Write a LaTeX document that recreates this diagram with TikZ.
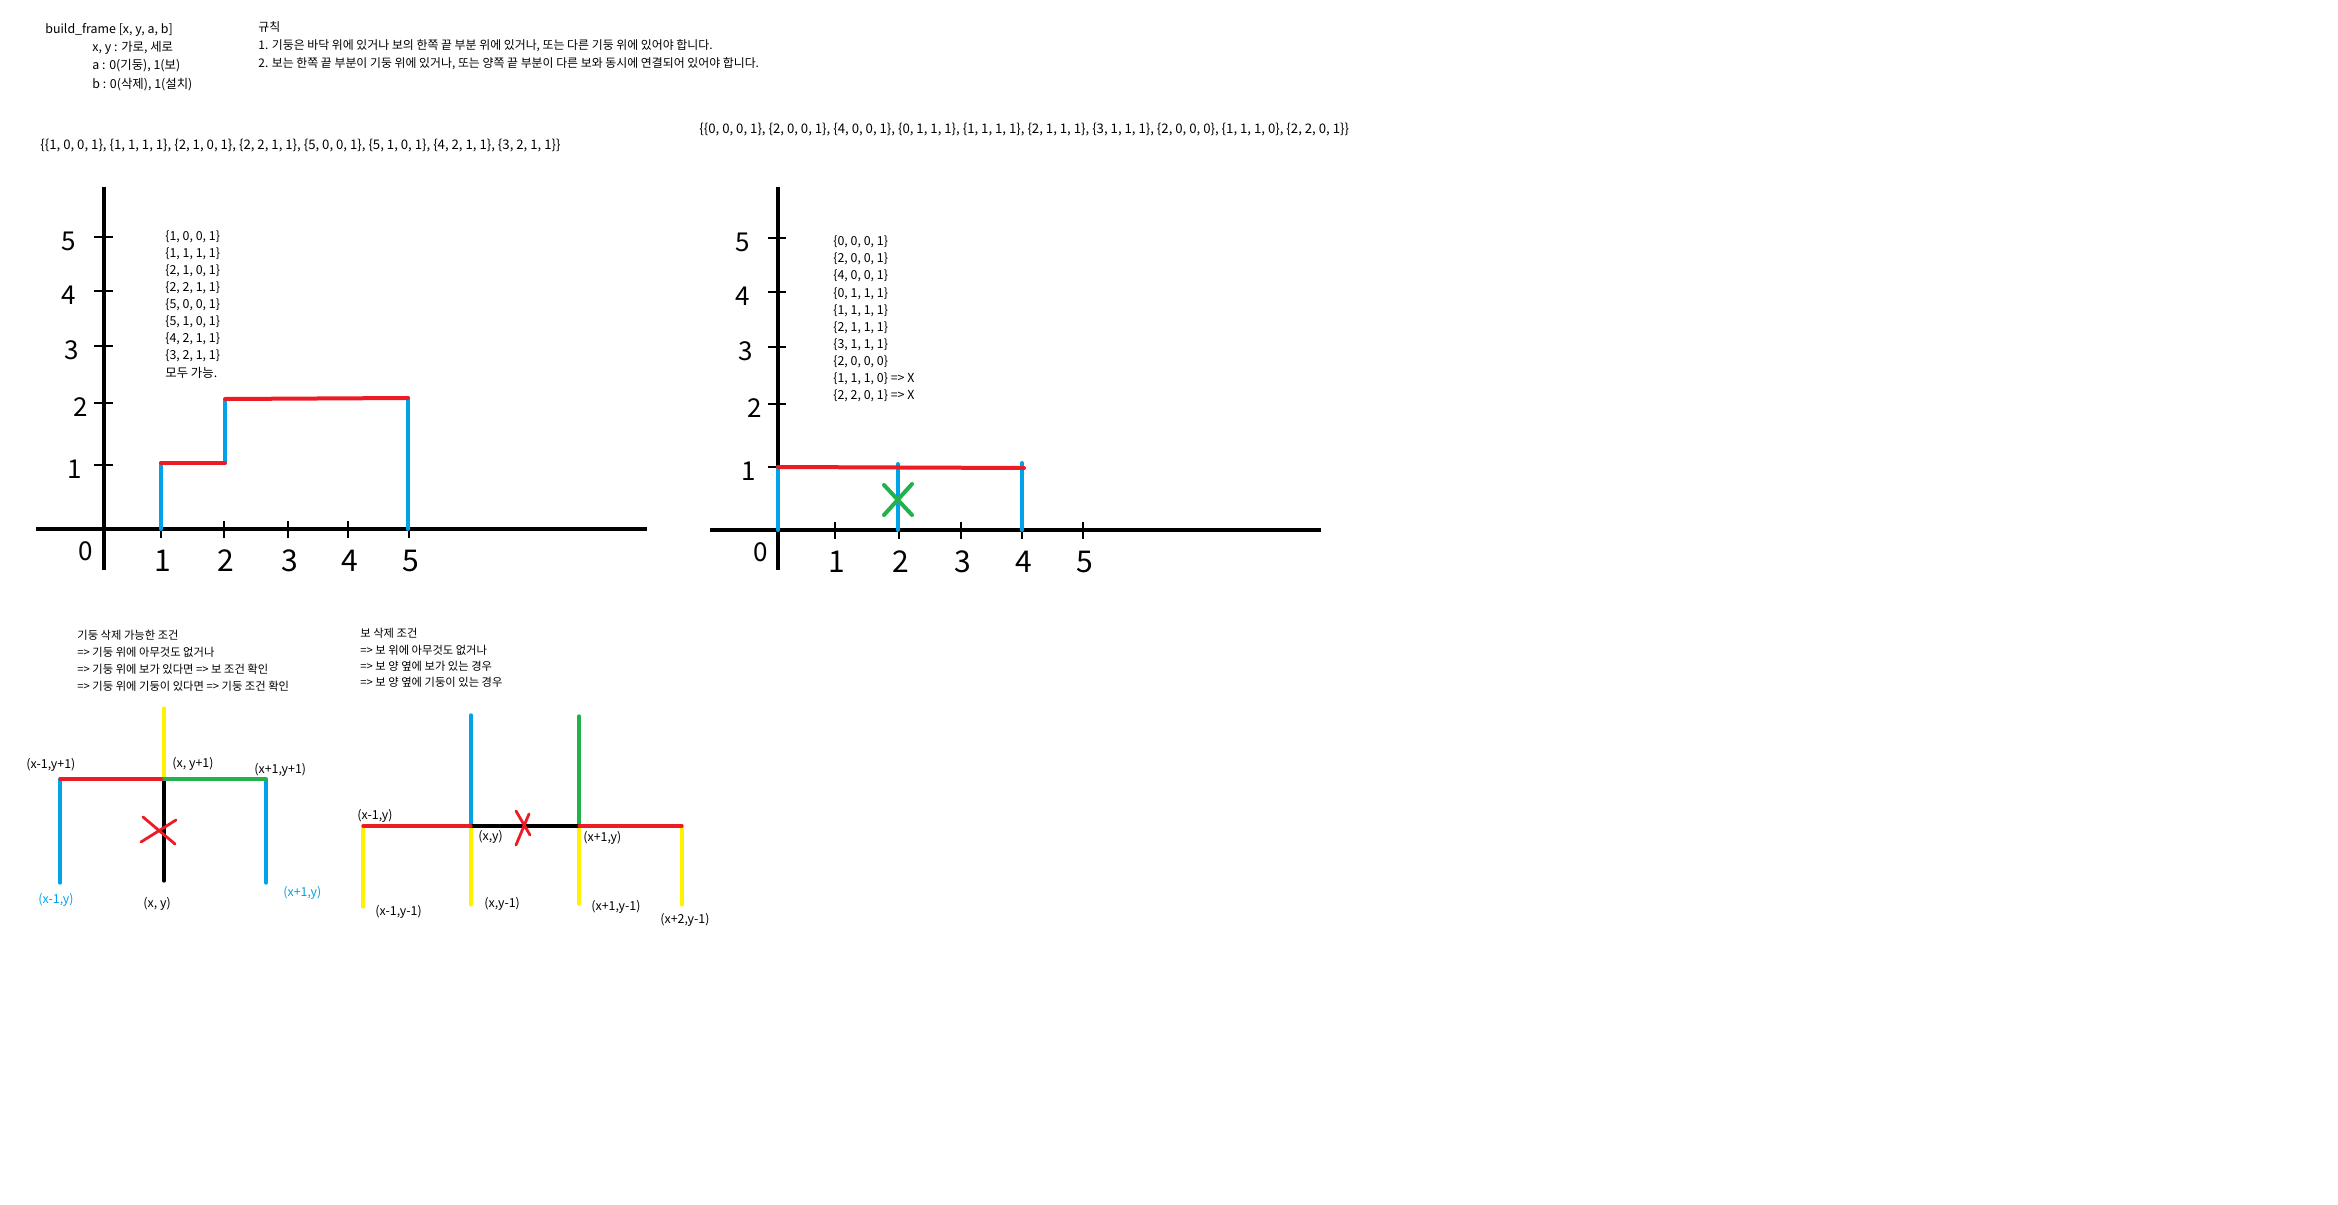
\documentclass[tikz,border=0pt]{standalone}
\usepackage{fontspec}
\setmainfont{Noto Sans CJK KR}
\usetikzlibrary{positioning}
\definecolor{paintred}{HTML}{ED1C24}
\definecolor{paintblue}{HTML}{00A2E8}
\definecolor{paintgreen}{HTML}{22B14C}
\definecolor{paintyellow}{HTML}{FFF200}

\begin{document}
\begin{tikzpicture}[x=0.5pt, y=-0.5pt,
        txt/.style={anchor=west, inner sep=0pt, font=\fontsize{6.2}{8}\selectfont},
        ruletxt/.style={txt, font=\fontsize{5.95}{8}\selectfont},
        condtxt/.style={txt, font=\fontsize{5.65}{8}\selectfont},
        arraytxt/.style={txt, font=\fontsize{6.6}{8}\selectfont},
        axnum/.style={inner sep=0pt, font=\fontsize{13}{13}\selectfont},
        bignum/.style={inner sep=0pt, font=\fontsize{15}{15}\selectfont},
        axis/.style={line width=2pt, black},
        tick/.style={line width=1.4pt, black},
        beam/.style={line width=2pt, paintred, line cap=round},
        pillar/.style={line width=2pt, paintblue, line cap=round},
        part/.style={line width=1.6pt, line cap=round},
        cross/.style={line width=1.4pt, line cap=round}
    ]
        \fill[white] (0,0) rectangle (2338,1204);

        % header
        \node (title) [txt] at (45,30) {build\_frame [x, y, a, b]};
        \node (xydesc) [txt] at (92,48) {x, y : 가로, 세로};
        \node (adesc) [txt] at (92,66) {a : 0(기둥), 1(보)};
        \node (bdesc) [txt] at (92,85) {b : 0(삭제), 1(설치)};
        \node (rule) [ruletxt] at (258,27) {규칙};
        \node (rule1) [ruletxt] at (258,46) {1. 기둥은 바닥 위에 있거나 보의 한쪽 끝 부분 위에 있거나, 또는 다른 기둥 위에 있어야 합니다.};
        \node (rule2) [ruletxt] at (258,64) {2. 보는 한쪽 끝 부분이 기둥 위에 있거나, 또는 양쪽 끝 부분이 다른 보와 동시에 연결되어 있어야 합니다.};
        \node (leftinput) [arraytxt] at (40,146) {\{\{1, 0, 0, 1\}, \{1, 1, 1, 1\}, \{2, 1, 0, 1\}, \{2, 2, 1, 1\}, \{5, 0, 0, 1\}, \{5, 1, 0, 1\}, \{4, 2, 1, 1\}, \{3, 2, 1, 1\}\}};
        \node (rightinput) [arraytxt] at (699,130) {\{\{0, 0, 0, 1\}, \{2, 0, 0, 1\}, \{4, 0, 0, 1\}, \{0, 1, 1, 1\}, \{1, 1, 1, 1\}, \{2, 1, 1, 1\}, \{3, 1, 1, 1\}, \{2, 0, 0, 0\}, \{1, 1, 1, 0\}, \{2, 2, 0, 1\}\}};

        % left graph
        \draw[axis] (104,187) -- (104,570);
        \draw[axis] (36,529) -- (647,529);
        \foreach \y/\l/\lx in {237/5/69, 291/4/69, 346/3/72, 403/2/81, 465/1/75} {
            \draw[tick] (94,\y) -- (113,\y);
            \node (lyl\l) [axnum] at (\lx,\y+4) {\l};
        }
        \foreach \x/\l in {161/1, 224/2, 288/3, 348/4, 409/5} {
            \draw[tick] (\x,521) -- (\x,538);
            \node (lxl\l) [bignum] at (\x+2,561) {\l};
        }
        \node (lzero) [axnum] at (86,551) {0};
        \draw[pillar] (161,529) -- (161,463);
        \draw[pillar] (225,463) -- (225,400);
        \draw[pillar] (408,398) -- (408,529);
        \draw[beam] (161,463) -- (225,463);
        \draw[beam] (225,399) -- (408,398);
        \foreach \t [count=\i from 0] in {{\{1, 0, 0, 1\}}, {\{1, 1, 1, 1\}}, {\{2, 1, 0, 1\}}, {\{2, 2, 1, 1\}}, {\{5, 0, 0, 1\}}, {\{5, 1, 0, 1\}}, {\{4, 2, 1, 1\}}, {\{3, 2, 1, 1\}}, {모두 가능.}} {
            \node (lcase\i) [txt] at (165,237+17*\i) {\t};
        }

        % right graph
        \draw[axis] (778,187) -- (778,570);
        \draw[axis] (710,530) -- (1321,530);
        \foreach \y/\l/\lx in {238/5/743, 292/4/743, 347/3/746, 404/2/755, 467/1/749} {
            \draw[tick] (768,\y) -- (786,\y);
            \node (ryl\l) [axnum] at (\lx,\y+4) {\l};
        }
        \foreach \x/\l in {835/1, 899/2, 961/3, 1022/4, 1083/5} {
            \draw[tick] (\x,522) -- (\x,539);
            \node (rxl\l) [bignum] at (\x+2,562) {\l};
        }
        \node (rzero) [axnum] at (761,552) {0};
        \draw[pillar] (778,530) -- (778,467);
        \draw[pillar] (898,530) -- (898,464);
        \draw[pillar] (1022,530) -- (1022,463);
        \draw[beam] (778,467) -- (1024,468);
        \draw[cross, paintgreen, line width=2pt] (884,485) -- (912,515) (912,484) -- (884,515);
        \foreach \t [count=\i from 0] in {{\{0, 0, 0, 1\}}, {\{2, 0, 0, 1\}}, {\{4, 0, 0, 1\}}, {\{0, 1, 1, 1\}}, {\{1, 1, 1, 1\}}, {\{2, 1, 1, 1\}}, {\{3, 1, 1, 1\}}, {\{2, 0, 0, 0\}}, {\{1, 1, 1, 0\} =\textgreater{} X}, {\{2, 2, 0, 1\} =\textgreater{} X}} {
            \node (rcase\i) [txt] at (833,242+17.1*\i) {\t};
        }

        % pillar removal
        \node (pcond) [condtxt] at (77,635) {기둥 삭제 가능한 조건};
        \node (pcond1) [condtxt] at (77,652) {=\textgreater{} 기둥 위에 아무것도 없거나};
        \node (pcond2) [condtxt] at (77,669) {=\textgreater{} 기둥 위에 보가 있다면 =\textgreater{} 보 조건 확인};
        \node (pcond3) [condtxt] at (77,686) {=\textgreater{} 기둥 위에 기둥이 있다면 =\textgreater{} 기둥 조건 확인};
        \draw[part, paintyellow] (164,708) -- (164,779);
        \draw[part, paintblue] (60,779) -- (60,883);
        \draw[part, paintblue] (266,779) -- (266,883);
        \draw[part, black] (164,779) -- (164,881);
        \draw[part, paintred] (60,779) -- (164,779);
        \draw[part, paintgreen] (164,779) -- (266,779);
        \draw[cross, paintred] (143,817) -- (175,844) (141,842) -- (176,820);
        \node (pl1) [txt] at (26,765) {(x-1,y+1)};
        \node (pl2) [txt] at (172,764) {(x, y+1)};
        \node (pl3) [txt] at (254,770) {(x+1,y+1)};
        \node (pl4) [txt, text=paintblue] at (38,900) {(x-1,y)};
        \node (pl5) [txt] at (143,904) {(x, y)};
        \node (pl6) [txt, text=paintblue] at (283,893) {(x+1,y)};

        % beam removal
        \node (bcond) [condtxt] at (360,633) {보 삭제 조건};
        \node (bcond1) [condtxt] at (360,650) {=\textgreater{} 보 위에 아무것도 없거나};
        \node (bcond2) [condtxt] at (360,666) {=\textgreater{} 보 양 옆에 보가 있는 경우};
        \node (bcond3) [condtxt] at (360,682) {=\textgreater{} 보 양 옆에 기둥이 있는 경우};
        \draw[part, paintblue] (471,715) -- (471,826);
        \draw[part, paintgreen] (579,716) -- (579,826);
        \foreach \x/\yb in {363/907, 471/905, 579/904, 682/905} {
            \draw[part, paintyellow] (\x,826) -- (\x,\yb);
        }
        \draw[part, black] (471,826) -- (579,826);
        \draw[part, paintred] (363,826) -- (471,826);
        \draw[part, paintred] (579,826) -- (682,826);
        \draw[cross, paintred] (516,811) -- (530,835) (529,814) -- (516,845);
        \node (bl1) [txt] at (357,816) {(x-1,y)};
        \node (bl2) [txt] at (478,837) {(x,y)};
        \node (bl3) [txt] at (583,838) {(x+1,y)};
        \node (bl4) [txt] at (375,912) {(x-1,y-1)};
        \node (bl5) [txt] at (484,904) {(x,y-1)};
        \node (bl6) [txt] at (591,907) {(x+1,y-1)};
        \node (bl7) [txt] at (660,920) {(x+2,y-1)};
    \end{tikzpicture}
\end{document}
